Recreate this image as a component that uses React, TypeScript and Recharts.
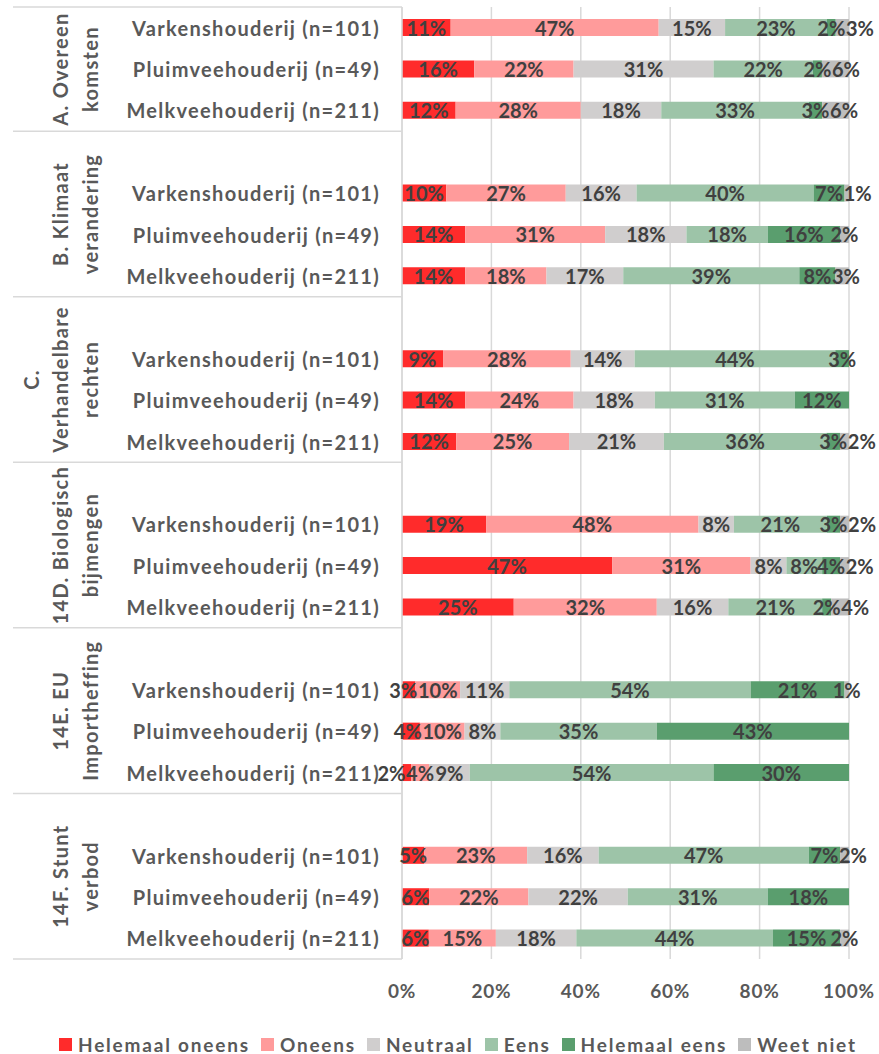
import React from "react"
import { BarChart, Bar, XAxis, YAxis, CartesianGrid, LabelList } from "recharts"

// sub-categories repeated in every block
const categories = ["Varkenshouderij (n=101)", "Pluimveehouderij (n=49)", "Melkveehouderij (n=211)"]

// block labels (one entry per text line, rotated)
const groupLabels = [
  ["A. Overeen", "komsten"],
  ["B. Klimaat", "verandering"],
  ["C.", "Verhandelbare", "rechten"],
  ["14D. Biologisch", "bijmengen"],
  ["14E. EU", "Importheffing"],
  ["14F. Stunt", "verbod"],
]

// values per block, in order Varken / Pluimvee / Melkvee
const helemaalOneens = [11, 16, 12, 10, 14, 14, 9, 14, 12, 19, 47, 25, 3, 4, 2, 5, 6, 6]
const oneens = [47, 22, 28, 27, 31, 18, 28, 24, 25, 48, 31, 32, 10, 10, 4, 23, 22, 15]
const neutraal = [15, 31, 18, 16, 18, 17, 14, 18, 21, 8, 8, 16, 11, 8, 9, 16, 22, 18]
const eens = [23, 22, 33, 40, 18, 39, 44, 31, 36, 21, 8, 21, 54, 35, 54, 47, 31, 44]
const helemaalEens = [2, 2, 3, 7, 16, 8, 3, 12, 3, 3, 4, 2, 21, 43, 30, 7, 18, 15]
const weetNiet = [3, 6, 6, 1, 2, 3, 0, 0, 2, 2, 2, 4, 1, 0, 0, 2, 0, 2]

const xTicks = [0, 0.2, 0.4, 0.6, 0.8, 1]

const series = [
  { key: "ho", name: "Helemaal oneens", color: "#FF2B2B", values: helemaalOneens },
  { key: "o", name: "Oneens", color: "#FF9B9B", values: oneens },
  { key: "n", name: "Neutraal", color: "#D0CECE", values: neutraal },
  { key: "e", name: "Eens", color: "#9DC4A8", values: eens },
  { key: "he", name: "Helemaal eens", color: "#5A9E6E", values: helemaalEens },
  { key: "wn", name: "Weet niet", color: "#BDBDBD", values: weetNiet },
]

// rows: first block has no spacer row, the others start with an empty one
const rows: any[] = []
const groupSpans: { start: number; end: number }[] = []
groupLabels.forEach((g, gi) => {
  const start = rows.length
  if (gi > 0) {
    const blank: any = { id: "r" + rows.length, name: "" }
    series.forEach((s) => (blank[s.key] = 0))
    rows.push(blank)
  }
  categories.forEach((c, ci) => {
    const i = gi * 3 + ci
    const row: any = { id: "r" + rows.length, name: c }
    series.forEach((s) => (row[s.key] = s.values[i]))
    rows.push(row)
  })
  groupSpans.push({ start, end: rows.length - 1 })
})

const FONT = "Lato, 'Open Sans', sans-serif"
const CHART_W = 879
const CHART_H = 1010
const TOP = 7
const X_AXIS_H = 51
const AXIS_X = 402
const SEP_X = 13
const LABEL_SIZE = 20
const SLOT = (CHART_H - TOP - X_AXIS_H) / rows.length

const lbl = (v: number) => `${v}%`
// rough width of a bold Lato label
const textWidth = (s: string) => s.split("").reduce((w, ch) => w + (ch === "%" ? 0.8 : 0.58) * LABEL_SIZE, 0)

// centred labels; first/last label in a bar is pushed outwards when it collides with its neighbour
function makeLabel(seriesIndex: number) {
  return function SegmentLabel(props: any) {
    const vb = props.viewBox || props
    const { x, y, width, height } = vb
    const value = props.value
    if (!value) return null
    const key = series[seriesIndex].key
    const cy = y + height / 2
    const ri = Math.round((cy - TOP) / SLOT - 0.5)
    const row = rows[ri] && rows[ri][key] === value ? rows[ri] : null
    let cx = x + width / 2
    if (row) {
      const vals = series.map((s) => row[s.key] || 0)
      const pxPer = width / value
      const sumTo = (k: number) => vals.slice(0, k).reduce((a, b) => a + b, 0)
      const x0 = x - sumTo(seriesIndex) * pxPer
      const centre = (k: number) => x0 + (sumTo(k) + vals[k] / 2) * pxPer
      const nonZero = vals.map((v, k) => (v ? k : -1)).filter((k) => k >= 0)
      const pos = nonZero.indexOf(seriesIndex)
      const w = textWidth(lbl(value))
      if (pos === nonZero.length - 1 && pos > 0) {
        const p = nonZero[pos - 1]
        const prevEnd = centre(p) + textWidth(lbl(vals[p])) / 2
        if (cx - w / 2 < prevEnd) cx = prevEnd + w / 2 + 1
      } else if (pos === 0 && nonZero.length > 1) {
        const n = nonZero[1]
        const nextStart = centre(n) - textWidth(lbl(vals[n])) / 2
        if (cx + w / 2 > nextStart) cx = nextStart - w / 2 - 1
      }
    }
    return (
      <text x={cx} y={cy} textAnchor="middle" dominantBaseline="central" fill="#404040" fontSize={LABEL_SIZE} fontWeight={700} fontFamily={FONT}>
        {lbl(value)}
      </text>
    )
  }
}

function CategoryTick(props: any) {
  const { x, y, payload, index } = props
  const half = payload && payload.offset ? payload.offset : SLOT / 2
  const txt = { fill: "#595959", fontSize: 20, fontWeight: 700, fontFamily: FONT, letterSpacing: 1.3 }
  const out: any[] = []
  out.push(
    <text key="t" x={x} y={y} textAnchor="end" dominantBaseline="central" {...txt}>
      {rows[index] ? rows[index].name : ""}
    </text>
  )
  groupSpans.forEach((g, gi) => {
    if (index === 0 && g.start === 0) {
      out.push(<line key={"top" + gi} x1={SEP_X} x2={AXIS_X} y1={y - half} y2={y - half} stroke="#D9D9D9" strokeWidth={1.5} />)
    }
    if (index === g.end) {
      out.push(<line key={"sep" + gi} x1={SEP_X} x2={AXIS_X} y1={y + half} y2={y + half} stroke="#D9D9D9" strokeWidth={1.5} />)
    }
    const mid = (g.start + g.end) / 2
    if (index === Math.floor(mid)) {
      const gy = Number.isInteger(mid) ? y : y + half
      const lines = groupLabels[gi]
      lines.forEach((ln, li) => {
        const lx = 90 - (lines.length - 1 - li) * 29.5
        out.push(
          <text key={"g" + gi + "-" + li} x={lx} y={gy} transform={`rotate(-90 ${lx} ${gy})`} textAnchor="middle" dominantBaseline="central" {...txt}>
            {ln}
          </text>
        )
      })
    }
  })
  return <g>{out}</g>
}

export default function App() {
  return (
    <div style={{ position: "absolute", left: 0, top: 0, width: CHART_W, height: 1054, background: "#fff" }}>
      <BarChart
        width={CHART_W}
        height={CHART_H}
        data={rows}
        layout="vertical"
        stackOffset="expand"
        barSize={17}
        margin={{ top: TOP, right: 30, bottom: 0, left: 0 }}
      >
        <CartesianGrid horizontal={false} stroke="#D9D9D9" strokeWidth={1.5} />
        <XAxis
          type="number"
          domain={[0, 1]}
          ticks={xTicks}
          tickFormatter={(v: number) => `${Math.round(v * 100)}%`}
          axisLine={false}
          tickLine={false}
          tickSize={0}
          tickMargin={26}
          height={X_AXIS_H}
          tick={{ fill: "#595959", fontSize: 19, fontWeight: 700, fontFamily: FONT, letterSpacing: 0.8 }}
        />
        <YAxis
          type="category"
          dataKey="id"
          width={AXIS_X}
          interval={0}
          tickSize={0}
          tickMargin={22}
          tickLine={false}
          axisLine={{ stroke: "#D9D9D9", strokeWidth: 1.5 }}
          tick={<CategoryTick />}
        />
        {series.map((s, si) => (
          <Bar key={s.key} dataKey={s.key} name={s.name} stackId="a" fill={s.color} isAnimationActive={false}>
            <LabelList dataKey={s.key} content={makeLabel(si)} />
          </Bar>
        ))}
      </BarChart>
      <div style={{ position: "absolute", top: 1036, left: 59, height: 17, display: "flex", alignItems: "center", fontFamily: FONT, fontWeight: 700, fontSize: 19, lineHeight: "17px", letterSpacing: 1.8, color: "#595959", whiteSpace: "nowrap" }}>
        {series.map((s) => (
          <div key={s.key} style={{ display: "flex", alignItems: "center", marginRight: 11 }}>
            <span style={{ width: 13, height: 13, background: s.color, marginRight: 6, display: "inline-block" }} />
            <span>{s.name}</span>
          </div>
        ))}
      </div>
    </div>
  )
}
